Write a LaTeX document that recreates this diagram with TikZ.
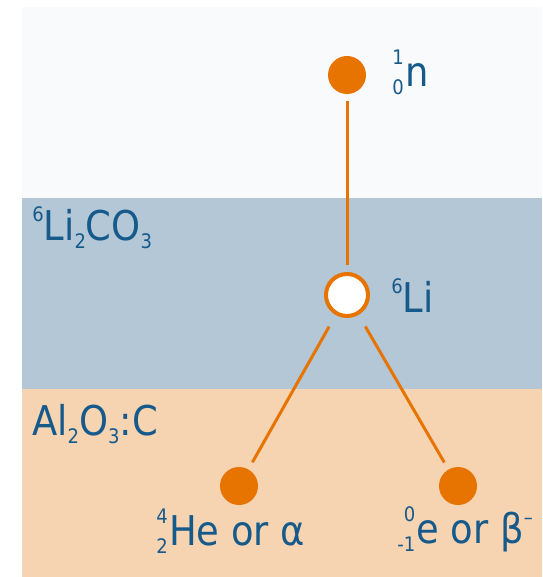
\documentclass[tikz,border=0pt]{standalone}
\usepackage{fontspec}
\setmainfont{DejaVu Sans Condensed}

\definecolor{decayorange}{HTML}{E87400}
\definecolor{labelblue}{HTML}{16598B}
\definecolor{airgray}{HTML}{F9FAFB}
\definecolor{convblue}{HTML}{B4C7D6}
\definecolor{detpeach}{HTML}{F6D3B1}

\newcommand{\mainsize}{\fontsize{30.75}{36}\selectfont}
\newcommand{\numsize}{\fontsize{15}{18}\selectfont}
\newcommand{\up}[1]{\raisebox{14pt}{\numsize #1}}
\newcommand{\dn}[1]{\raisebox{-6.5pt}{\numsize #1}}
% stacked mass and charge numbers before a symbol
\newcommand{\nuc}[3]{%
  {\numsize
   \setbox0=\hbox{#1}\setbox2=\hbox{#2}%
   \ifdim\wd0<\wd2 \setbox0=\hbox to\wd2{\hss#1}\else\setbox2=\hbox to\wd0{\hss#2}\fi
   \rlap{\raise16.5pt\box0}\lower6pt\box2}\kern1pt#3}

\tikzset{
  particle/.style={circle, fill=decayorange, minimum size=28.5pt, inner sep=0pt},
  target/.style={circle, draw=decayorange, fill=white, line width=3pt, minimum size=31.5pt, inner sep=0pt},
  link/.style={draw=decayorange, line width=2.25pt},
  tag/.style={anchor=base west, inner sep=0pt, text=labelblue, font=\mainsize}
}

\begin{document}
\begin{tikzpicture}[x=0.75pt, y=-0.75pt]
    \useasboundingbox (0,0) rectangle (542,577);
    \fill[white] (0,0) rectangle (542,577);

    % Layers
    \fill[airgray] (22,7) rectangle (542,198);
    \fill[convblue] (22,198) rectangle (542,389);
    \fill[detpeach] (22,389) rectangle (542,577);

    \node[tag] (convlabel) at (32,240) {\up{6}Li\dn{2}CO\dn{3}};
    \node[tag] (detlabel) at (32,435) {Al\dn{2}O\dn{3}:C};

    % Particles
    \node[particle] (neutron) at (347,75) {};
    \node[target] (lithium) at (347,295) {};
    \node[particle] (alpha) at (239,486) {};
    \node[particle] (beta) at (458,486) {};

    \node[tag] (neutronlabel) at (392,87) {\nuc{1}{0}{n}};
    \node[tag] (lithiumlabel) at (391,312) {\up{6}Li};
    \node[tag] (alphalabel) at (156,545) {\nuc{4}{2}{He or α}};
    \node[tag] (betalabel) at (397,543) {\nuc{0}{-1}{e or β\up{–}}};

    % Reaction paths
    \draw[link, shorten <=5pt, shorten >=5pt] (neutron) -- (lithium);
    \draw[link, shorten <=10pt, shorten >=6pt] (lithium) -- (alpha);
    \draw[link, shorten <=10pt, shorten >=6pt] (lithium) -- (beta);

\end{tikzpicture}
\end{document}
